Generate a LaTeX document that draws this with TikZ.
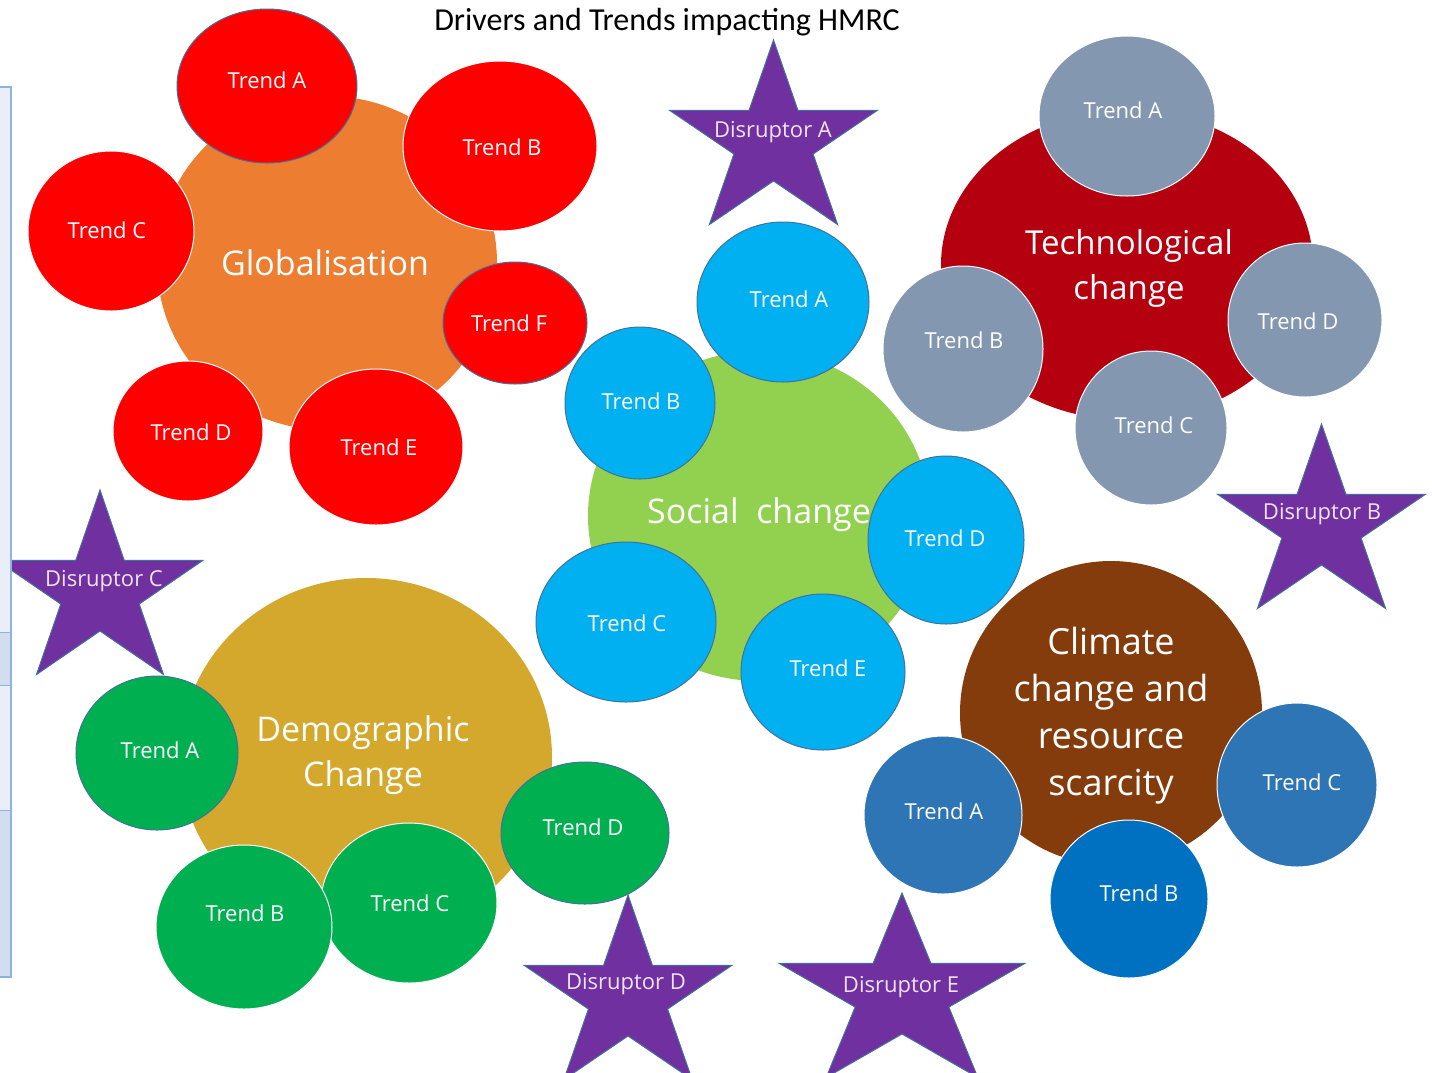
\documentclass[tikz,border=0pt]{standalone}
\usepackage{fontspec}
\setmainfont{Open Sans}
\newfontfamily\titlefont{Carlito}
\usetikzlibrary{shapes.geometric}
\definecolor{cOrange}{HTML}{ED7D31}
\definecolor{cRed}{HTML}{FF0000}
\definecolor{cLime}{HTML}{92D050}
\definecolor{cSky}{HTML}{00B0F0}
\definecolor{cDarkRed}{HTML}{B50010}
\definecolor{cGray}{HTML}{8497B0}
\definecolor{cBrown}{HTML}{843C0C}
\definecolor{cBlue}{HTML}{2E75B6}
\definecolor{cBlueB}{HTML}{0070C0}
\definecolor{cGold}{HTML}{D4A82C}
\definecolor{cGreen}{HTML}{00B050}
\definecolor{cPurple}{HTML}{7030A0}
\definecolor{cEdge}{HTML}{41719C}
\definecolor{cLav}{HTML}{EEE4F6}
\definecolor{cPanelA}{HTML}{E9EEF8}
\definecolor{cPanelB}{HTML}{D2DDF0}
\definecolor{cPanelLine}{HTML}{8DB3E2}
\tikzset{
  bubble/.style={ellipse, inner sep=0pt, outer sep=0pt, line width=1pt},
  trendtxt/.style={text=white, font=\fontsize{22}{26}\selectfont, inner sep=0pt},
  bigtxt/.style={text=white, align=center, inner sep=0pt},
  starsty/.style={fill=cPurple, draw=cEdge, line width=1pt, line join=miter},
  disrtxt/.style={text=cLav, font=\fontsize{22}{26}\selectfont, inner sep=0pt},
}
% name, cx, cy, rx, ry, fill+draw, tx, ty, text
\newcommand\mybubble[9]{%
  \node[bubble, fill=#6, minimum width={2*#4}, minimum height={2*#5}] (#1) at (#2,#3) {};
  \node[trendtxt] (#1t) at (#7,#8) {#9};
}
% name, cx, cy, rx, ry, text, tx, ty
\newcommand\mydisruptor[8]{%
  \begin{scope}[shift={(#2,#3)}, x=#4pt, y=#5pt]
    \draw[starsty] (0,1) -- (0.2245,0.309) -- (0.951,0.309) -- (0.363,-0.118)
      -- (0.588,-0.809) -- (0,-0.382) -- (-0.588,-0.809) -- (-0.363,-0.118)
      -- (-0.951,0.309) -- (-0.2245,0.309) -- cycle;
  \end{scope}
  \node[disrtxt] (#1) at (#7,#8) {#6};
}
\begin{document}
\begin{tikzpicture}[x=1pt,y=-1pt]
\clip (0,0) rectangle (1432,1072);
\fill[white] (0,0) rectangle (1432,1072);

% ---- Globalisation ----
\node[bubble, fill=cOrange, minimum width=340pt, minimum height=334pt] (glob) at (327,263) {};
\node[bigtxt, font=\fontsize{34}{45}\selectfont] (globt) at (325,263) {Globalisation};
\mybubble{gA}{267}{86}{90}{77}{cRed, draw=cEdge}{267}{80}{Trend A}
\mybubble{gB}{500}{146}{97}{85}{cRed, draw=white}{502}{147}{Trend B}
\mybubble{gC}{111}{231}{83}{80}{cRed, draw=white}{107}{230}{Trend C}
\mybubble{gF}{515}{323}{72}{61}{cRed, draw=cEdge}{509}{323}{Trend F}
\mybubble{gD}{188}{431}{75}{70}{cRed, draw=white}{191}{432}{Trend D}
\mybubble{gE}{376}{447}{87}{78}{cRed, draw=white}{379}{447}{Trend E}

% ---- Social change ----
\node[bubble, fill=cLime, minimum width=342pt, minimum height=330pt] (soc) at (759,516) {};
\mybubble{sA}{783}{302}{86}{80}{cSky, draw=cEdge}{789}{299}{Trend A}
\mybubble{sB}{640}{403}{75}{76}{cSky, draw=cEdge}{641}{401}{Trend B}
\mybubble{sC}{626}{622}{90}{80}{cSky, draw=cEdge}{627}{623}{Trend C}
\mybubble{sE}{823}{672}{82}{78}{cSky, draw=cEdge}{828}{668}{Trend E}
\node[bigtxt, font=\fontsize{34}{45}\selectfont] (soct) at (759,515) {Social\ \ change};
\mybubble{sD}{946}{540}{78}{84}{cSky, draw=cEdge}{945}{538}{Trend D}

% ---- Technological change ----
\node[bubble, fill=cDarkRed, minimum width=372pt, minimum height=310pt] (tech) at (1127,265) {};
\node[bigtxt, font=\fontsize{33}{45}\selectfont] (techt) at (1129,268) {Technological\\change};
\mybubble{tA}{1127}{116}{88}{80}{cGray, draw=white}{1123}{110}{Trend A}
\mybubble{tB}{963}{349}{80}{83}{cGray, draw=white}{964}{340}{Trend B}
\mybubble{tD}{1305}{320}{77}{77}{cGray, draw=white}{1298}{321}{Trend D}
\mybubble{tC}{1151}{428}{76}{77}{cGray, draw=white}{1154}{425}{Trend C}

% ---- Climate change ----
\node[bubble, fill=cBrown, minimum width=302pt, minimum height=304pt] (clim) at (1111,713) {};
\node[bigtxt, font=\fontsize{36}{47}\selectfont] (climt) at (1111,716) {Climate\\change and\\resource\\scarcity};
\mybubble{cA}{943}{815}{79}{79}{cBlue, draw=white}{944}{811}{Trend A}
\mybubble{cC}{1297}{785}{80}{82}{cBlue, draw=white}{1302}{782}{Trend C}
\mybubble{cB}{1129}{899}{79}{79}{cBlueB, draw=white}{1139}{893}{Trend B}

% ---- Demographic Change ----
\node[bubble, fill=cGold, minimum width=372pt, minimum height=358pt] (demo) at (366,757) {};
\node[bigtxt, font=\fontsize{34}{45}\selectfont] (demot) at (363,755) {Demographic\\Change};
\mybubble{dA}{157}{753}{81}{77}{cGreen, draw=cEdge}{160}{750}{Trend A}
\mybubble{dC}{409}{903}{88}{80}{cGreen, draw=white}{410}{903}{Trend C}
\mybubble{dB}{244}{927}{88}{82}{cGreen, draw=white}{245}{913}{Trend B}
\mybubble{dD}{585}{833}{84}{71}{cGreen, draw=cEdge}{583}{827}{Trend D}

% ---- Disruptors ----
\mydisruptor{disA}{773.5}{142}{109}{102}{Disruptor A}{773}{132}
\mydisruptor{disB}{1321.5}{526}{109}{102}{Disruptor B}{1322}{514}
\mydisruptor{disC}{100}{592}{108}{102}{Disruptor C}{104}{581}
\mydisruptor{disD}{628}{997}{109}{102}{Disruptor D}{626}{984}
\mydisruptor{disE}{902}{995}{129}{102}{Disruptor E}{901}{987}

% ---- left panel ----
\fill[cPanelA] (0,87) rectangle (11,977);
\fill[cPanelB] (0,632) rectangle (11,685);
\fill[cPanelB] (0,810) rectangle (11,977);
\draw[cPanelLine, line width=1.5pt] (0,87) -- (11,87) -- (11,977) -- (0,977);
\draw[cPanelLine, line width=1pt] (0,632) -- (11,632) (0,685) -- (11,685) (0,810) -- (11,810);

% ---- title ----
\node[inner sep=0pt, font=\titlefont\fontsize{32}{38}\selectfont] (title) at (667,22) {Drivers and Trends impacting HMRC};
\end{tikzpicture}
\end{document}
